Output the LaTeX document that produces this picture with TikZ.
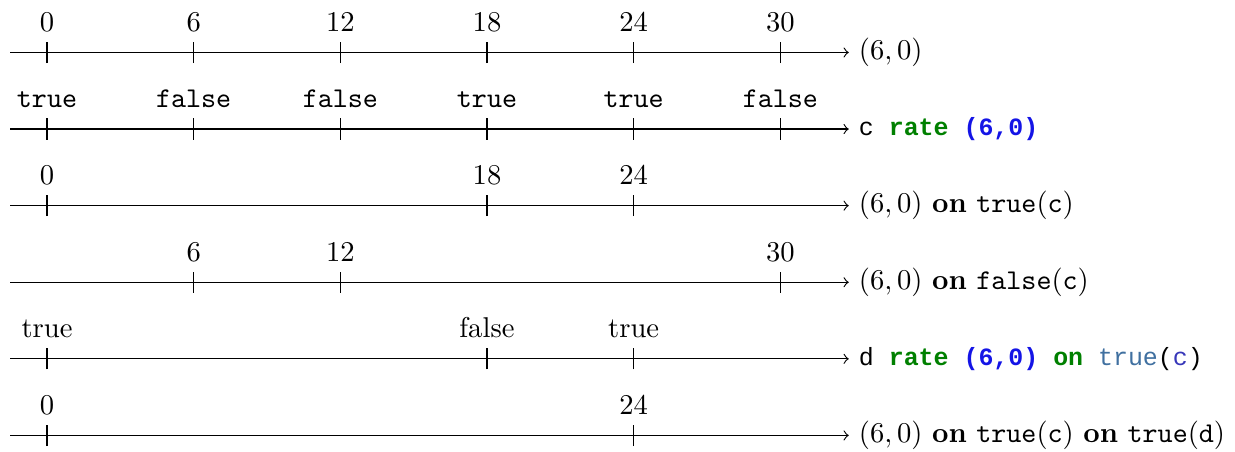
\documentclass[tikz,border=0pt]{standalone}
\usepackage{fontspec}
\newfontfamily\codefont{Liberation Mono}[Scale=0.87]
\definecolor{kwgreen}{RGB}{0,128,0}
\definecolor{numblue}{RGB}{20,20,230}
\definecolor{builtinblue}{RGB}{64,112,160}
\definecolor{varblue}{RGB}{55,55,185}
\tikzset{
  axisline/.style={->, thin},
  tickmark/.style={thin},
  ticklabel/.style={above, inner sep=3.5pt},
  streamlabel/.style={right},
}
\begin{document}
\begin{tikzpicture}[x=0.3cm, y=1cm]
  \useasboundingbox (-1.923,0.644) rectangle (48.6,-4.90);

  % clock (6,0)
  \coordinate (s1) at (-1.5,0);
  \coordinate (e1) at (32.8,0);
  \draw[axisline] (s1) -- (e1);
  \foreach \t in {0,6,...,30} {
    \draw[tickmark] (\t,-0.13) -- (\t,0.13) node[ticklabel] (ra\t) {$\t$};
  }
  \node[streamlabel] (la) at (e1) {$(6,0)$};

  % sampled boolean stream c
  \coordinate (s2) at (-1.5,-0.94);
  \coordinate (e2) at (32.8,-0.94);
  \draw[axisline] (s2) -- (e2);
  \foreach \t/\v in {0/true,6/false,12/false,18/true,24/true,30/false} {
    \draw[tickmark] (\t,-1.07) -- (\t,-0.81) node[ticklabel] (rb\t) {\texttt{\v}};
  }
  \node[streamlabel] (lb) at (e2)
    {\codefont c \textcolor{kwgreen}{\bfseries rate} \textcolor{numblue}{\bfseries (6,0)}};

  % filtered on true(c)
  \coordinate (s3) at (-1.5,-1.88);
  \coordinate (e3) at (32.8,-1.88);
  \draw[axisline] (s3) -- (e3);
  \foreach \t in {0,18,24} {
    \draw[tickmark] (\t,-2.01) -- (\t,-1.75) node[ticklabel] (rc\t) {$\t$};
  }
  \node[streamlabel] (lc) at (e3)
    {$(6,0)$ \textbf{on} \texttt{true}(\texttt{c})};

  % filtered on false(c)
  \coordinate (s4) at (-1.5,-2.82);
  \coordinate (e4) at (32.8,-2.82);
  \draw[axisline] (s4) -- (e4);
  \foreach \t in {6,12,30} {
    \draw[tickmark] (\t,-2.95) -- (\t,-2.69) node[ticklabel] (rd\t) {$\t$};
  }
  \node[streamlabel] (ld) at (e4)
    {$(6,0)$ \textbf{on} \texttt{false}(\texttt{c})};

  % sampled boolean stream d
  \coordinate (s5) at (-1.5,-3.76);
  \coordinate (e5) at (32.8,-3.76);
  \draw[axisline] (s5) -- (e5);
  \foreach \t/\v in {0/true,18/false,24/true} {
    \draw[tickmark] (\t,-3.89) -- (\t,-3.63) node[ticklabel] (re\t) {\v};
  }
  \node[streamlabel] (le) at (e5)
    {\codefont d \textcolor{kwgreen}{\bfseries rate} \textcolor{numblue}{\bfseries (6,0)}
     \textcolor{kwgreen}{\bfseries on} \textcolor{builtinblue}{true}(\textcolor{varblue}{c})};

  % filtered on true(c) on true(d)
  \coordinate (s6) at (-1.5,-4.70);
  \coordinate (e6) at (32.8,-4.70);
  \draw[axisline] (s6) -- (e6);
  \foreach \t in {0,24} {
    \draw[tickmark] (\t,-4.83) -- (\t,-4.57) node[ticklabel] (rf\t) {$\t$};
  }
  \node[streamlabel] (lf) at (e6)
    {$(6,0)$ \textbf{on} \texttt{true}(\texttt{c}) \textbf{on} \texttt{true}(\texttt{d})};
\end{tikzpicture}
\end{document}
